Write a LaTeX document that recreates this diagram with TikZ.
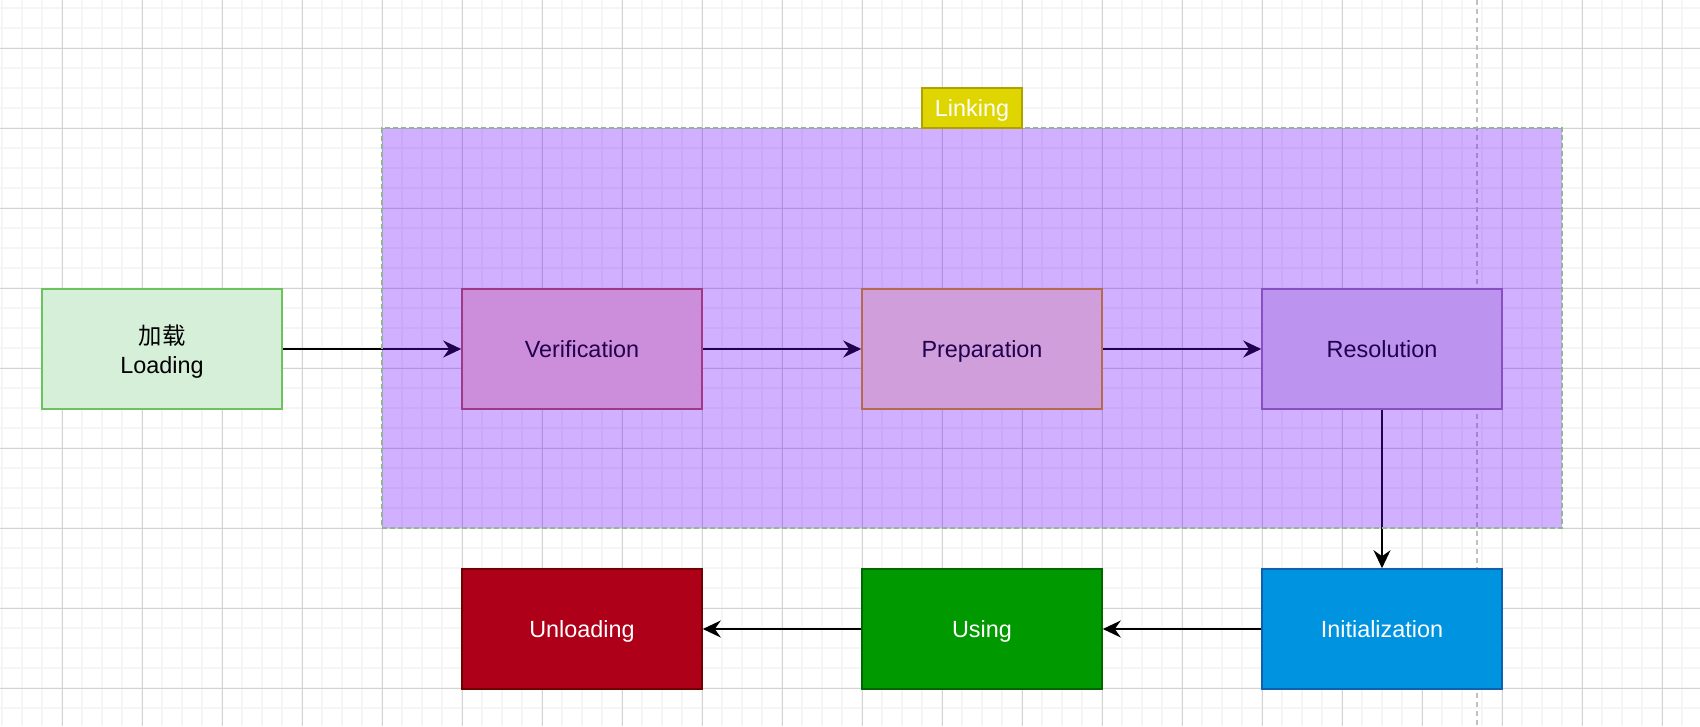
\documentclass[tikz,border=0pt]{standalone}
\usepackage{fontspec}
\setmainfont{Liberation Sans}
\newfontfamily\cjk{Noto Sans CJK SC}
\usetikzlibrary{arrows.meta}
\definecolor{gridminor}{HTML}{F5F5F5}
\definecolor{gridmajor}{HTML}{D3D3D3}
\definecolor{pagebreak}{HTML}{C0C0C0}
\definecolor{loadfill}{HTML}{D5EFD8}
\definecolor{loaddraw}{HTML}{6CC25C}
\definecolor{redfill}{HTML}{F8CECC}
\definecolor{reddraw}{HTML}{B85450}
\definecolor{orfill}{HTML}{FFE6CC}
\definecolor{ordraw}{HTML}{D79B00}
\definecolor{pufill}{HTML}{E1D5E7}
\definecolor{pudraw}{HTML}{9673A6}
\definecolor{crimfill}{HTML}{AE0018}
\definecolor{crimdraw}{HTML}{6F0000}
\definecolor{grfill}{HTML}{009900}
\definecolor{grdraw}{HTML}{006600}
\definecolor{blfill}{HTML}{0093E0}
\definecolor{bldraw}{HTML}{1060B0}
\definecolor{violet}{HTML}{6A00FF}
\definecolor{linkdraw}{HTML}{8FB88F}
\definecolor{yelfill}{HTML}{DFD500}
\definecolor{yeldraw}{HTML}{B0A000}
\tikzset{
  x=1pt, y=-1pt,
  minorline/.style={draw=gridminor, line width=1.2pt},
  majorline/.style={draw=gridmajor, line width=1pt},
  box/.style={rectangle, minimum width=240pt, minimum height=120pt, line width=1.6pt,
    font=\fontsize{23.4}{29.5}\selectfont, align=center, inner sep=0pt, text depth=0pt},
  oneline/.style={text height=16.8pt},
  conn/.style={line width=2pt, draw=black, -{Stealth[length=18pt,width=17pt,inset=6pt]}},
}
\begin{document}
\begin{tikzpicture}
\useasboundingbox (0,0) rectangle (1700,726);
\fill[white] (0,0) rectangle (1700,726);
% grid
\foreach \x in {2,22,...,1700} \draw[minorline] (\x,0) -- (\x,726);
\foreach \y in {8,28,...,726} \draw[minorline] (0,\y) -- (1700,\y);
\foreach \x in {62,142,...,1700} \draw[majorline] (\x,0) -- (\x,726);
\foreach \y in {48,128,...,726} \draw[majorline] (0,\y) -- (1700,\y);
% page break line
\draw[pagebreak, line width=2pt, dash pattern=on 5pt off 4pt] (1477,0) -- (1477,726);
% boxes
\node[box, fill=loadfill, draw=loaddraw] (load) at (162,349) {{\cjk 加载}\\Loading};
\node[box, oneline, fill=redfill, draw=reddraw] (verif) at (582,349) {Verification};
\node[box, oneline, fill=orfill, draw=ordraw] (prep) at (982,349) {Preparation};
\node[box, oneline, fill=pufill, draw=pudraw] (resol) at (1382,349) {Resolution};
\node[box, oneline, fill=crimfill, draw=crimdraw, text=white] (unload) at (582,629) {Unloading};
\node[box, oneline, fill=grfill, draw=grdraw, text=white] (using) at (982,629) {Using};
\node[box, oneline, fill=blfill, draw=bldraw, text=white] (init) at (1382,629) {Initialization};
% connectors
\draw[conn] (load) -- (verif);
\draw[conn] (verif) -- (prep);
\draw[conn] (prep) -- (resol);
\draw[conn] (resol) -- (init);
\draw[conn] (init) -- (using);
\draw[conn] (using) -- (unload);
% linking overlay
\node[rectangle, minimum width=1180pt, minimum height=400pt, inner sep=0pt,
  fill=violet, fill opacity=0.31, draw=linkdraw, draw opacity=1, line width=1.5pt,
  dash pattern=on 5pt off 3pt] (linking) at (972,328) {};
\node[rectangle, minimum width=100pt, minimum height=40pt, inner sep=0pt,
  fill=yelfill, draw=yeldraw, line width=1.6pt, text=white, text height=16.8pt, text depth=0pt,
  font=\fontsize{23.4}{29}\selectfont] (linklabel) at (972,108) {Linking};
\end{tikzpicture}
\end{document}
